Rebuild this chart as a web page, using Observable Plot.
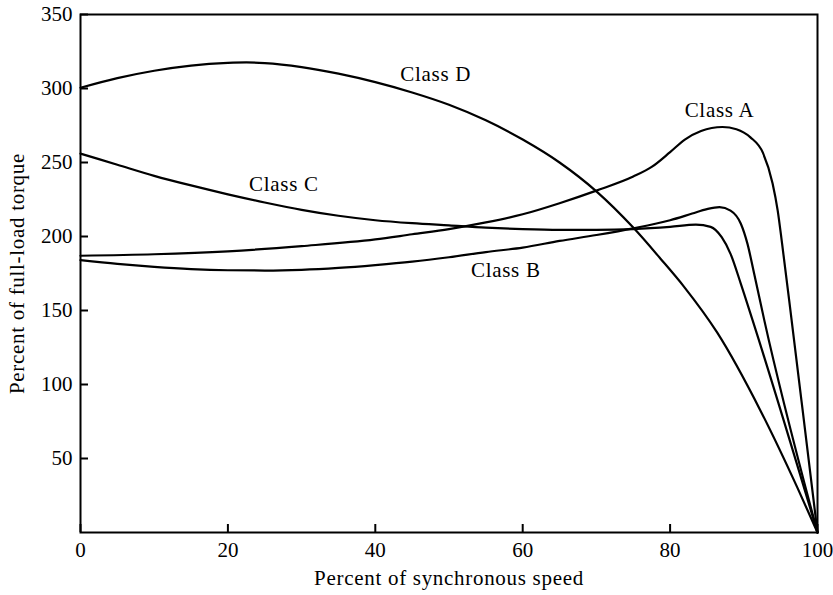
<!DOCTYPE html>
<html><head><meta charset="utf-8">
<script src="https://cdn.jsdelivr.net/npm/d3@7"></script>
<script src="https://cdn.jsdelivr.net/npm/@observablehq/plot@0.6"></script>
<style>
body{margin:0;background:#fff}
g[aria-label="text"] text{letter-spacing:0.7px}
</style>
</head><body><div id="chart"></div>
<script>
// Percent of synchronous speed (x) and percent of full-load torque (y)
const classAX = [0, 10, 20, 30, 40, 45, 50, 55, 60, 65, 70, 75, 77.5, 80, 82, 84.2, 87.1, 89, 90.9, 92.6, 93.9, 94.6, 95.2, 96.5, 98, 100];
const classAY = [187, 188, 190, 193.5, 198, 201.5, 205, 209.5, 215, 222.5, 231, 240.5, 247, 257, 265.5, 271.3, 274, 272.5, 267, 256.5, 236, 217.5, 195, 143, 82, 0];

const classBX = [0, 5, 10, 15, 20, 25, 30, 35, 40, 45, 50, 55, 60, 65, 70, 75, 80, 83, 85, 86.7, 88.2, 89.6, 90.5, 91.4, 92.8, 100];
const classBY = [184, 181.5, 179.5, 178, 177.2, 177, 177.5, 178.8, 180.7, 183, 186, 189.5, 192.5, 197, 201, 205.5, 211, 215.5, 218.5, 219.8, 217.5, 208.6, 195, 175, 143, 0];

const classCX = [0, 5, 10, 15, 20, 25, 30, 35, 40, 45, 50, 55, 60, 65, 70, 75, 80, 83.5, 85.5, 87, 88.2, 89.6, 91.2, 100];
const classCY = [256, 248.5, 241, 234.5, 228.5, 223, 218, 214, 211, 209, 207.5, 206, 205, 204.5, 204.5, 205, 206.5, 208, 206.5, 199.5, 188.3, 168, 143.3, 0];

const classDX = [0, 5, 10, 15, 20, 22.5, 25, 30, 35, 40, 45, 50, 55, 60, 65, 70, 75, 78.7, 81.9, 86.4, 92.3, 97.3, 100];
const classDY = [300.5, 307, 312, 315.5, 317.3, 317.6, 317.2, 314.5, 310, 304.3, 297.3, 289, 278.5, 265.5, 250, 230.5, 206, 185, 166, 135, 82, 30, 0];

const seriesNames = ["Class A", "Class B", "Class C", "Class D"];
const labelX = [86.7, 57.7, 27.6, 48.2];
const labelY = [285, 177, 235, 309.5];

const xTicks = [0, 20, 40, 60, 80, 100];
const yTicks = [50, 100, 150, 200, 250, 300, 350];
const xTitle = "Percent of synchronous speed";
const yTitle = "Percent of full-load torque";

const seriesX = [classAX, classBX, classCX, classDX];
const seriesY = [classAY, classBY, classCY, classDY];
const rows = seriesNames.flatMap((name, k) => seriesX[k].map((x, i) => ({name, x, y: seriesY[k][i]})));
const labels = seriesNames.map((name, i) => ({name, x: labelX[i], y: labelY[i]}));

const chart = Plot.plot({
  width: 833,
  height: 595,
  marginLeft: 80,
  marginRight: 16,
  marginTop: 14,
  marginBottom: 63,
  style: {fontFamily: "'Liberation Serif', 'Times New Roman', serif", fontSize: "21px", color: "#000", background: "#fff"},
  x: {domain: [0, 100]},
  y: {domain: [0, 350]},
  marks: [
    Plot.axisX({ticks: xTicks, tickSize: -8, tickPadding: 18, strokeWidth: 2, label: null}),
    Plot.axisY({ticks: yTicks, tickSize: -8, tickPadding: 16, strokeWidth: 2, label: null}),
    Plot.frame({strokeWidth: 2, stroke: "#000"}),
    Plot.line(rows, {x: "x", y: "y", z: "name", curve: "monotone-x", stroke: "#000", strokeWidth: 2.2}),
    Plot.text(labels, {x: "x", y: "y", text: "name", fill: "#000", fontSize: 21}),
    Plot.text([xTitle], {text: d => d, frameAnchor: "bottom", dy: 46, lineAnchor: "middle", textAnchor: "middle", fill: "#000", fontSize: 21}),
    Plot.text([yTitle], {text: d => d, frameAnchor: "left", dx: -63, rotate: -90, lineAnchor: "middle", textAnchor: "middle", fill: "#000", fontSize: 21})
  ]
});
document.getElementById("chart").appendChild(chart);
</script>
</body></html>
